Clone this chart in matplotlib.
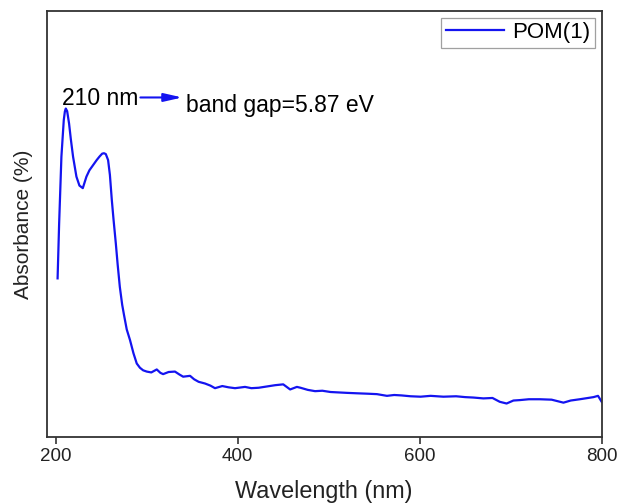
import numpy as np
import matplotlib
matplotlib.use('Agg')
import matplotlib.pyplot as plt

# 光谱数据
wavelength = [202, 203.7, 206.2, 208.8, 210, 211, 212.5, 214.6, 216.5, 219,
              222.7, 226, 229.7, 233.7, 237, 241, 245, 248, 251, 253,
              255, 257.5, 259.5, 261.6, 263.5, 266, 268, 270.4, 273, 275,
              278, 281.6, 285.4, 289, 292.5, 296, 300, 305, 311, 315,
              318, 324, 331, 336, 340, 347.6, 352, 357, 364, 370,
              375, 383, 390, 397, 408, 415, 423, 432, 441, 450,
              457.6, 465, 469, 477, 485, 493, 502, 511, 520, 531,
              543, 553, 564, 572, 580, 590, 601, 612, 626, 640,
              650, 659, 670, 680, 688, 695.5, 703, 710, 720, 732,
              745, 758, 766, 776, 785, 791, 796, 800]
absorbance = [0.372, 0.501, 0.658, 0.744, 0.764, 0.771, 0.765, 0.736, 0.700, 0.658,
              0.611, 0.590, 0.584, 0.611, 0.626, 0.638, 0.650, 0.658, 0.665, 0.666,
              0.664, 0.650, 0.615, 0.556, 0.510, 0.454, 0.405, 0.352, 0.310, 0.286,
              0.252, 0.227, 0.196, 0.172, 0.162, 0.156, 0.153, 0.151, 0.158, 0.150,
              0.147, 0.152, 0.153, 0.146, 0.141, 0.143, 0.135, 0.129, 0.125, 0.120,
              0.114, 0.119, 0.116, 0.114, 0.117, 0.114, 0.115, 0.118, 0.121, 0.123,
              0.111, 0.117, 0.115, 0.110, 0.107, 0.108, 0.105, 0.104, 0.103, 0.102,
              0.101, 0.100, 0.096, 0.098, 0.097, 0.095, 0.094, 0.096, 0.094, 0.095,
              0.093, 0.092, 0.090, 0.091, 0.082, 0.078, 0.085, 0.086, 0.088, 0.088,
              0.087, 0.080, 0.085, 0.088, 0.091, 0.093, 0.096, 0.082]
xticks = [200, 400, 600, 800]

plt.rcParams['font.family'] = ['Liberation Sans', 'DejaVu Sans']

fig = plt.figure(figsize=(6.19, 5.03), dpi=100)
ax = fig.add_axes([0.0754, 0.1318, 0.8966, 0.8462])

ax.plot(wavelength, absorbance, color='#1414f0', linewidth=1.6, label='POM(1)')

# 标注
ax.text(206.6, 0.779, '210 nm', fontsize=16.5, va='baseline', ha='left')
ax.annotate('', xy=(339, 0.797), xytext=(293, 0.797),
            arrowprops=dict(arrowstyle='-|>,head_length=1.1,head_width=0.25',
                            color='#1414f0', lw=1.5, mutation_scale=10,
                            shrinkA=0, shrinkB=0))
ax.text(343, 0.763, 'band gap=5.87 eV', fontsize=16.5, va='baseline', ha='left')

ax.set_xlim(190, 800)
ax.set_ylim(0, 1)
ax.set_xticks(xticks)
ax.set_yticks([])
ax.tick_params(axis='x', direction='out', length=5, width=1.1, labelsize=13.5,
               colors='#222222', pad=3)

for spine in ax.spines.values():
    spine.set_visible(True)
    spine.set_color('#333333')
    spine.set_linewidth(1.3)

ax.set_xlabel('Wavelength (nm)', fontsize=16.8, labelpad=11, color='#222222')
ax.set_ylabel('Absorbance (%)', fontsize=15, labelpad=10, color='#222222')

leg = ax.legend(loc='upper right', fontsize=16, fancybox=False, handlelength=2.6,
                borderaxespad=0.3, borderpad=0.2, handletextpad=0.4)
leg.get_frame().set_edgecolor('#888888')
leg.get_frame().set_linewidth(0.9)

fig.savefig('out.png', dpi=100)
